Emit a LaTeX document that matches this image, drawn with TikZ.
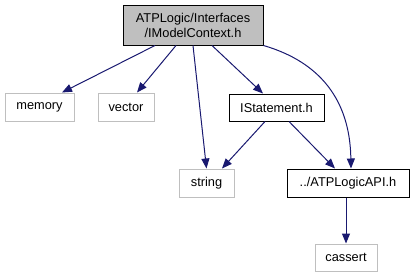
\documentclass[tikz,border=0pt]{standalone}
\usepackage{fontspec}
\setmainfont{Liberation Sans}
\usetikzlibrary{arrows.meta}
\definecolor{edgeblue}{HTML}{191970}
\definecolor{extgray}{HTML}{BFBFBF}
\begin{document}
\begin{tikzpicture}[x=1pt,y=-1pt,
  box/.style={draw, line width=1pt, inner sep=0pt, font=\fontsize{12.8}{15}\selectfont, align=center},
  extfile/.style={box, draw=extgray, fill=white},
  incfile/.style={box, draw=black, fill=white},
  mainfile/.style={box, draw=black, fill=extgray},
  dep/.style={draw=edgeblue, line width=1pt, -{Triangle[length=10pt,width=8pt,fill=edgeblue]}}]
\useasboundingbox (0,0) rectangle (415,276);
\node[mainfile, minimum width=140pt, minimum height=40pt] (top) at (193,25)
  {ATPLogic/Interfaces\\/IModelContext.h};
\node[extfile, minimum width=69pt, minimum height=28pt] (memory) at (39.5,107) {memory};
\node[extfile, minimum width=56pt, minimum height=28pt] (vector) at (126,107) {vector};
\node[incfile, minimum width=95pt, minimum height=27pt] (istmt) at (276.5,107.5) {IStatement.h};
\node[extfile, minimum width=55pt, minimum height=28pt] (string) at (206.5,183) {string};
\node[incfile, minimum width=122pt, minimum height=28pt] (api) at (348,183) {../ATPLogicAPI.h};
\node[extfile, minimum width=62pt, minimum height=27pt] (cassert) at (346,257.5) {cassert};

\draw[dep] ([xshift=-38pt]top.south) -- ([xshift=22.5pt]memory.north);
\draw[dep] ([xshift=-17pt]top.south) -- ([xshift=11pt]vector.north);
\draw[dep] (top.south) -- (string.north);
\draw[dep] ([xshift=19pt]top.south) -- ([xshift=-13.5pt]istmt.north);
\draw[dep] (top.south east) .. controls (320,62) and (350,100) .. ([xshift=3pt]api.north);
\draw[dep] ([xshift=-11.5pt]istmt.south) -- ([xshift=15.5pt]string.north);
\draw[dep] ([xshift=12.5pt]istmt.south) -- ([xshift=-13pt]api.north);
\draw[dep] ([xshift=-2pt]api.south) -- (cassert.north);
\end{tikzpicture}
\end{document}
